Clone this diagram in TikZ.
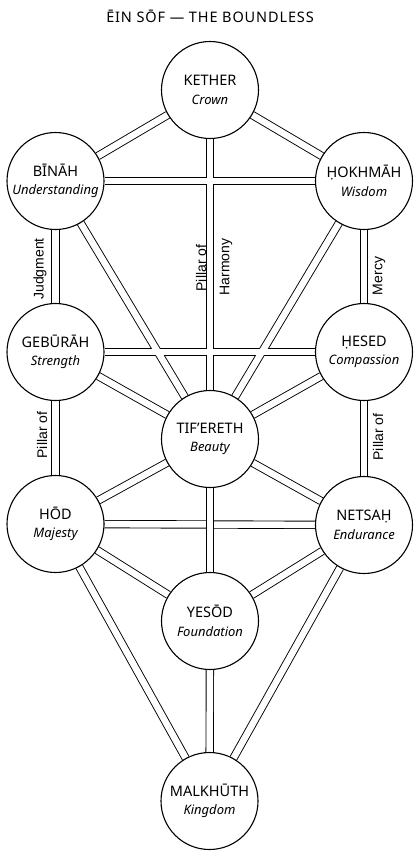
\documentclass[tikz,border=0pt]{standalone}
\usepackage{fontspec}
\setmainfont{Noto Sans}
\newfontfamily\labelfont{Liberation Sans}
\newfontfamily\titlefont[LetterSpace=6]{Noto Sans}
\usetikzlibrary{backgrounds}
\begin{document}
\begin{tikzpicture}[x=1pt,y=-1pt,
  sef/.style={circle,draw,fill=white,line width=1.1pt,minimum size=97pt,inner sep=0pt,
    align=center,font=\fontsize{14.5}{18.5}\selectfont},
  chanout/.style={line width=8.3pt,black},
  chanin/.style={line width=6.5pt,white},
  lbl/.style={font=\labelfont\fontsize{14}{14}\selectfont,rotate=90,inner sep=0pt}
]
\useasboundingbox (0,0) rectangle (413,852);
\node[font=\titlefont\fontsize{14.5}{15}\selectfont] (title) at (210,16) {ĒIN SŌF — THE BOUNDLESS};
\node[sef] (K)  at (210,90)   {KETHER\\{\itshape\fontsize{13}{13}\selectfont Crown}};
\node[sef] (B)  at (55.5,181) {BĪNĀH\\{\itshape\fontsize{13}{13}\selectfont Understanding}};
\node[sef] (Ho) at (364,181)  {ḤOKHMĀH\\{\itshape\fontsize{13}{13}\selectfont Wisdom}};
\node[sef] (G)  at (55.5,352) {GEBŪRĀH\\{\itshape\fontsize{13}{13}\selectfont Strength}};
\node[sef] (He) at (364,352)  {ḤESED\\{\itshape\fontsize{13}{13}\selectfont Compassion}};
\node[sef] (T)  at (210,439)  {TIF’ERETH\\{\itshape\fontsize{13}{13}\selectfont Beauty}};
\node[sef] (Hd) at (55.5,524) {HŌD\\{\itshape\fontsize{13}{13}\selectfont Majesty}};
\node[sef] (N)  at (364,525)  {NETSAḤ\\{\itshape\fontsize{13}{13}\selectfont Endurance}};
\node[sef] (Y)  at (210,621)  {YESŌD\\{\itshape\fontsize{13}{13}\selectfont Foundation}};
\node[sef] (M)  at (209.5,801) {MALKHŪTH\\{\itshape\fontsize{13}{13}\selectfont Kingdom}};
\begin{scope}[on background layer]
\foreach \a/\b in {B/Ho,G/He,Hd/N,K/B,K/Ho,B/T,Ho/T,G/T,He/T,T/Hd,T/N,Hd/Y,N/Y,Hd/M,N/M,K/T,B/G,Ho/He,G/Hd,He/N,Y/M}
  \draw[chanout] (\a) -- (\b);
\foreach \a/\b in {B/Ho,G/He,Hd/N,K/B,K/Ho,B/T,Ho/T,G/T,He/T,T/Hd,T/N,Hd/Y,N/Y,Hd/M,N/M,K/T,B/G,Ho/He,G/Hd,He/N,Y/M}
  \draw[chanin] (\a) -- (\b);
\draw[chanout] (T) -- (Y);
\draw[chanin] (T) -- (Y);
\end{scope}
% labels
\node[lbl] (judg) at (40,269) {Judgment};
\node[lbl] (merc) at (379,276) {Mercy};
\node[lbl] (pc) at (201,268) {Pillar of};
\node[lbl] (harm) at (226,267) {Harmony};
\node[lbl] (pl) at (42,435) {Pillar of};
\node[lbl] (pr) at (378,437) {Pillar of};
\end{tikzpicture}
\end{document}
